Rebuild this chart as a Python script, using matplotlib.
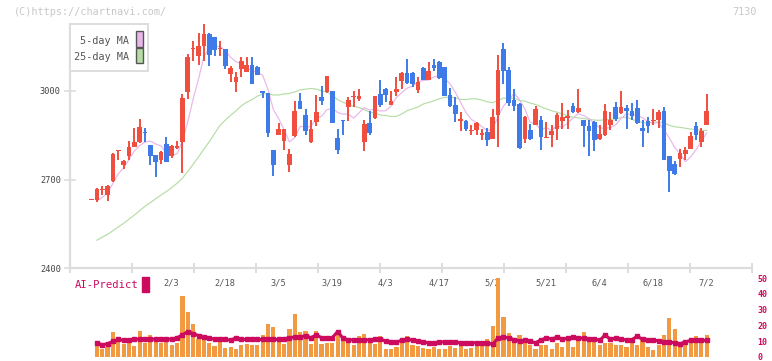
import numpy as np
import pandas as pd
import matplotlib
matplotlib.use("Agg")
import matplotlib.pyplot as plt
from matplotlib.patches import Rectangle

# daily candles (yen), oldest first
opens = [2632, 2632, 2664, 2649, 2696, 2797, 2751, 2779, 2812, 2826,
         2862, 2818, 2784, 2768, 2821, 2779, 2808, 2827, 2997, 3141,
         3120, 3151, 3193, 3183, 3141, 3143, 3059, 3029, 3074, 3064,
         3087, 3081, 2999, 2993, 2799, 2852, 2830, 2751, 2847, 2965,
         2918, 2827, 2895, 2980, 2997, 2999, 2841, 2901, 2946, 2978,
         2974, 2827, 2892, 2909, 2990, 3007, 2954, 2997, 3035, 3061,
         3061, 3005, 3078, 3038, 3087, 3098, 3080, 2985, 2951, 2900,
         2897, 2865, 2867, 2852, 2861, 2839, 2920, 3142, 3072, 2968,
         2956, 2839, 2867, 2886, 2901, 2842, 2850, 2872, 2900, 2909,
         2948, 2928, 2901, 2880, 2895, 2839, 2850, 2886, 2945, 2925,
         2942, 2933, 2942, 2875, 2900, 2899, 2903, 2931, 2779, 2753,
         2771, 2788, 2805, 2880, 2826, 2886]
highs = [2635, 2672, 2677, 2683, 2790, 2800, 2768, 2830, 2875, 2906,
         2875, 2818, 2784, 2798, 2846, 2818, 2830, 2990, 3125, 3170,
         3196, 3227, 3196, 3183, 3170, 3143, 3086, 3063, 3114, 3114,
         3114, 3083, 3001, 2993, 2800, 2892, 2873, 2804, 2967, 2993,
         2940, 2903, 2985, 3016, 3050, 3001, 2871, 2903, 2980, 2999,
         3007, 2903, 2931, 2984, 3038, 3009, 3001, 3047, 3063, 3108,
         3063, 3046, 3080, 3098, 3108, 3103, 3082, 3010, 2980, 2928,
         2901, 2886, 2894, 2871, 2875, 2940, 3123, 3163, 3080, 3007,
         2958, 2914, 2888, 2948, 2914, 2895, 2886, 2926, 2959, 2935,
         2959, 3007, 2903, 2903, 2897, 2886, 2956, 2929, 2963, 3001,
         2951, 2959, 2968, 2901, 2911, 2939, 2937, 2946, 2781, 2762,
         2804, 2810, 2860, 2895, 2875, 2990]
lows = [2631, 2625, 2649, 2629, 2692, 2767, 2737, 2768, 2810, 2824,
        2827, 2750, 2708, 2754, 2760, 2773, 2805, 2722, 2974, 3100,
        3089, 3100, 3086, 3117, 3117, 3074, 3029, 2997, 3047, 3064,
        3025, 3053, 2976, 2846, 2711, 2850, 2801, 2726, 2845, 2938,
        2852, 2825, 2880, 2954, 2993, 2890, 2788, 2852, 2900, 2945,
        2965, 2798, 2850, 2906, 2945, 2963, 2952, 2982, 3008, 3025,
        3014, 2993, 3036, 3036, 3069, 3042, 2982, 2946, 2894, 2866,
        2866, 2850, 2852, 2835, 2815, 2837, 2810, 3025, 2950, 2931,
        2805, 2824, 2835, 2884, 2801, 2841, 2810, 2835, 2872, 2872,
        2926, 2926, 2810, 2779, 2796, 2835, 2848, 2867, 2900, 2923,
        2872, 2901, 2888, 2810, 2858, 2884, 2875, 2765, 2657, 2717,
        2743, 2767, 2803, 2835, 2810, 2884]
closes = [2634, 2669, 2668, 2678, 2787, 2800, 2762, 2810, 2826, 2878,
          2858, 2781, 2760, 2793, 2760, 2814, 2814, 2976, 3115, 3145,
          3151, 3193, 3123, 3140, 3145, 3086, 3078, 3047, 3103, 3089,
          3025, 3055, 2994, 2858, 2751, 2871, 2871, 2787, 2931, 2940,
          2866, 2871, 2928, 2967, 3050, 2892, 2801, 2898, 2968, 2982,
          2982, 2888, 2858, 2982, 2951, 2988, 2965, 3007, 3061, 3027,
          3024, 3030, 3038, 3067, 3078, 3044, 2984, 2950, 2923, 2905,
          2872, 2869, 2892, 2858, 2835, 2912, 3072, 3067, 2960, 2950,
          2807, 2912, 2839, 2940, 2843, 2846, 2866, 2918, 2912, 2917,
          2928, 2942, 2883, 2863, 2835, 2854, 2931, 2901, 2906, 2946,
          2933, 2914, 2892, 2863, 2880, 2903, 2928, 2767, 2728, 2720,
          2790, 2799, 2849, 2850, 2863, 2931]

# moving averages before enough visible days exist
ma5_head = [np.nan, 2627, 2640, 2655]
ma25_head = [np.nan, 2495, 2505, 2515, 2527, 2540, 2552, 2566, 2580, 2595,
             2610, 2622, 2635, 2648, 2660, 2673, 2688, 2705, 2728, 2752,
             2777, 2803, 2828, 2856]

# volume and AI-Predict (right scale 0-50)
volume = [np.nan, 9.0, 5.2, 6.5, 16.1, 10.5, 8.4, 9.5, 6.9, 16.7,
          9.0, 14.0, 9.9, 9.0, 11.1, 7.7, 9.0, 38.7, 28.3, 20.9,
          11.1, 13.6, 9.0, 6.9, 9.9, 5.8, 6.5, 5.2, 7.7, 8.4,
          7.7, 7.7, 14.0, 20.9, 19.0, 10.5, 8.4, 17.8, 27.2, 16.1,
          16.7, 8.4, 16.7, 8.4, 9.0, 9.0, 14.0, 10.3, 9.0, 7.7,
          13.4, 14.7, 9.9, 8.4, 13.2, 5.2, 4.8, 6.5, 9.0, 13.2,
          7.7, 6.9, 5.8, 5.2, 6.5, 4.8, 5.2, 6.9, 5.8, 6.9,
          5.2, 5.8, 6.9, 8.4, 11.1, 19.4, 49.9, 25.6, 15.4, 10.5,
          14.0, 11.5, 7.7, 5.2, 7.3, 7.7, 4.8, 9.0, 6.5, 13.2,
          6.5, 9.9, 16.1, 10.5, 10.5, 7.3, 9.0, 9.0, 7.7, 7.7,
          6.5, 9.0, 7.3, 10.5, 6.5, 4.2, 7.3, 14.0, 24.7, 17.8,
          7.7, 9.9, 12.2, 13.0, 11.5, 14.0]
ai_predict = [np.nan, 9.0, 7.7, 8.4, 9.9, 11.1, 10.5, 10.5, 11.3, 11.3,
              11.3, 11.3, 11.3, 11.3, 11.3, 11.3, 12.2, 14.0, 16.1, 14.8,
              13.6, 12.6, 11.9, 11.3, 11.3, 11.3, 10.5, 12.2, 11.1, 11.1,
              11.5, 11.1, 11.1, 11.1, 11.1, 11.1, 11.5, 12.2, 12.6, 12.6,
              13.6, 12.2, 14.0, 12.2, 12.2, 12.2, 16.1, 11.9, 10.9, 10.9,
              10.9, 10.9, 10.9, 11.1, 11.5, 9.9, 9.5, 9.5, 10.5, 11.5,
              10.5, 9.9, 9.5, 9.0, 8.8, 9.5, 9.5, 9.5, 9.5, 9.0,
              9.0, 9.0, 9.0, 9.0, 9.0, 8.0, 12.2, 12.6, 12.2, 10.9,
              10.1, 10.5, 9.9, 9.0, 10.9, 11.9, 11.5, 12.4, 11.5, 11.9,
              12.4, 11.9, 11.9, 11.5, 11.5, 10.5, 14.0, 11.1, 12.2, 11.1,
              10.9, 10.9, 13.2, 11.1, 10.5, 10.9, 10.1, 9.5, 9.5, 9.0,
              8.4, 9.5, 10.5, 10.5, 10.5, 10.5]

date_labels = ["2/3", "2/18", "3/5", "3/19", "4/3", "4/17", "5/2",
               "5/21", "6/4", "6/18", "7/2"]
date_pos = [15, 25, 35, 45, 55, 65, 75, 85, 95, 105, 115]
price_ticks = [2400, 2700, 3000]

RED = "#F04E3E"
BLUE = "#3F7BE8"
ORANGE = "#F29A41"
CRIMSON = "#CC0A5E"
PINK = "#E9B6EA"
GREEN = "#B6DDA6"
GRID = "#DDDDDD"
MONO = "DejaVu Sans Mono"

W, H = 772, 361
fig = plt.figure(figsize=(W / 100, H / 100), dpi=100)


def fx(px):
    return px / W


def fy(py):
    return 1 - py / H


x0_px, dx_px = 91.5, 5.35


def to_idx(px):
    return (px - x0_px) / dx_px


xlim = (to_idx(70), to_idx(752))
idx = np.arange(len(closes))
o = np.array(opens, float)
c = np.array(closes, float)
up = c >= o
colors = np.where(up, RED, BLUE)

close_s = pd.Series(closes, dtype=float)
ma5 = close_s.rolling(5).mean().to_numpy()
ma5[:len(ma5_head)] = ma5_head
ma25 = close_s.rolling(25).mean().to_numpy()
ma25[:len(ma25_head)] = ma25_head

# price panel
ax = fig.add_axes([fx(70), fy(268.3), (752 - 70) / W, (268.3 - 24) / H])
ax.set_xlim(*xlim)
ax.set_ylim(2400, 3226.7)
ax.plot(idx, ma25, color=GREEN, lw=0.85, zorder=1)
ax.plot(idx, ma5, color=PINK, lw=0.85, zorder=1)
ax.vlines(idx, lows, highs, colors=colors, lw=1.4, zorder=2, clip_on=False)
body_low = np.minimum(o, c)
body_h = np.maximum(np.abs(c - o), 4)
ax.bar(idx, body_h, bottom=body_low, width=0.86, color=colors, zorder=3,
       linewidth=0, clip_on=False)

for s in ["top", "right"]:
    ax.spines[s].set_visible(False)
for s in ["left", "bottom"]:
    ax.spines[s].set_color(GRID)
    ax.spines[s].set_linewidth(1.6)
ax.set_yticks(price_ticks)
ax.set_yticklabels([str(v) for v in price_ticks], fontfamily=MONO, fontsize=6.2,
                   color="#444444")
ax.tick_params(axis="y", direction="inout", length=9, width=1.2, color=GRID, pad=2)
ax.set_xticks([to_idx(70 + 62 * k) for k in range(12)])
ax.set_xticklabels([])
ax.tick_params(axis="x", direction="inout", length=7, width=1.4, color=GRID)

# volume / AI-Predict panel
base = 357.0
axv = fig.add_axes([fx(70), fy(base), (752 - 70) / W, 79 / H])
axv.set_xlim(*xlim)
axv.set_ylim(0, 50)
axv.bar(idx, volume, width=0.78, color=ORANGE, zorder=2, linewidth=0)
axv.plot(idx, ai_predict, color=CRIMSON, lw=2.2, marker="s", ms=2.4, zorder=3)
for s in axv.spines.values():
    s.set_visible(False)
axv.patch.set_alpha(0)
axv.set_xticks([])
axv.yaxis.tick_right()
axv.set_yticks(range(0, 51, 10))
axv.set_yticklabels([str(v) for v in range(0, 51, 10)], fontfamily=MONO,
                    fontsize=6.0, color=CRIMSON, fontweight="bold")
axv.tick_params(axis="y", length=0, pad=4)
for lab, p in zip(date_labels, date_pos):
    axv.text(p, (base - 283) / 79, lab, transform=axv.get_xaxis_transform(),
             ha="center", va="center", fontfamily=MONO, fontsize=6.2,
             color="#555555", zorder=1, clip_on=False)

fig.text(fx(75), fy(285), "AI-Predict", fontfamily=MONO, fontsize=7.6,
         color=CRIMSON, va="center", ha="left")
fig.patches.append(Rectangle((fx(142), fy(292)), 7 / W, 15 / H,
                             transform=fig.transFigure, color=CRIMSON))

# legend box
fig.patches.append(Rectangle((fx(70), fy(71)), 78 / W, 47 / H,
                             transform=fig.transFigure, facecolor="white",
                             edgecolor=GRID, lw=1.4, zorder=5))
fig.patches.append(Rectangle((fx(136), fy(46.5)), 6.5 / W, 15.5 / H,
                             transform=fig.transFigure, facecolor=PINK,
                             edgecolor="#555555", lw=1.0, zorder=6))
fig.patches.append(Rectangle((fx(136), fy(63.3)), 6.5 / W, 15.5 / H,
                             transform=fig.transFigure, facecolor=GREEN,
                             edgecolor="#555555", lw=1.0, zorder=6))
fig.text(fx(129.5), fy(40.7), "5-day MA", fontfamily=MONO, fontsize=7.3,
         color="#555555", ha="right", va="center", zorder=7)
fig.text(fx(129.5), fy(57.3), "25-day MA", fontfamily=MONO, fontsize=7.3,
         color="#555555", ha="right", va="center", zorder=7)

# watermarks
fig.text(fx(14), fy(12), "(C)https://chartnavi.com/", fontfamily=MONO,
         fontsize=7.3, color="#C8C8C8", ha="left", va="center")
fig.text(fx(757), fy(12), "7130", fontfamily=MONO, fontsize=7.3,
         color="#C8C8C8", ha="right", va="center")

fig.savefig("out.png", dpi=100)
